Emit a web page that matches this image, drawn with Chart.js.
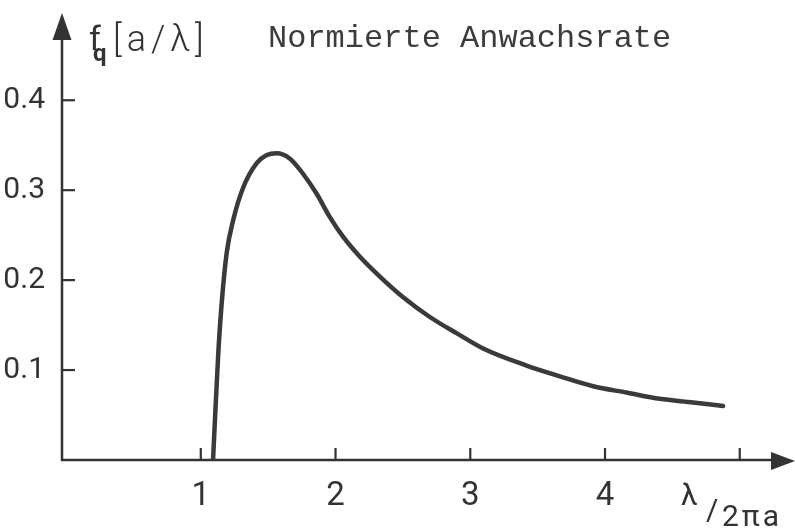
<!DOCTYPE html>
<html>
<head>
<meta charset="utf-8">
<script src="https://cdn.jsdelivr.net/npm/chart.js@4/dist/chart.umd.min.js"></script>
<style>
  html, body { margin: 0; padding: 0; background: #fff; }
  #wrap { width: 795px; height: 531px; }
</style>
</head>
<body>
<div id="wrap"><canvas id="c" width="795" height="531"></canvas></div>
<script>
// Normalised growth rate f_q (in units of a/λ) versus reduced wavelength λ/2πa
const lambdaValues = [1.091, 1.105, 1.130, 1.155, 1.192, 1.241, 1.315, 1.415, 1.490, 1.563, 1.662, 1.760, 1.860, 1.958, 2.057, 2.181, 2.329, 2.502, 2.700, 2.898, 3.095, 3.418, 3.665, 3.912, 4.159, 4.407, 4.654, 4.876];
const growthRates  = [0.000, 0.044, 0.119, 0.174, 0.230, 0.267, 0.303, 0.330, 0.339, 0.341, 0.335, 0.318, 0.296, 0.270, 0.248, 0.226, 0.204, 0.181, 0.159, 0.141, 0.124, 0.105, 0.093, 0.082, 0.075, 0.068, 0.064, 0.060];

const xTickValues = [1, 2, 3, 4, 5];
const xTickLabels = ['1', '2', '3', '4', ''];
const yTickValues = [0.1, 0.2, 0.3, 0.4];
const yTickLabels = ['0.1', '0.2', '0.3', '0.4'];

const chartTitle = 'Normierte Anwachsrate';
const yAxisSymbol = 'f';
const yAxisSub = 'q';
const yAxisUnit = '[a/λ]';
const xAxisTop = 'λ';
const xAxisSlash = '/';
const xAxisBottom = '2πa';

const INK = '#333';
const SANS = 'Roboto, "DejaVu Sans", sans-serif';

const points = lambdaValues.map((x, i) => ({ x: x, y: growthRates[i] }));

// Axis lines with arrow heads, inward tick marks and the hand-lettered titles
const axesPlugin = {
  id: 'axesDecor',
  beforeDatasetsDraw(chart) {
    const { ctx, chartArea, scales } = chart;
    const xs = scales.x, ys = scales.y;
    const x0 = xs.getPixelForValue(-0.03);
    const y0 = ys.getPixelForValue(0);
    ctx.save();
    ctx.strokeStyle = INK;
    ctx.fillStyle = INK;
    ctx.lineWidth = 2.5;
    ctx.lineCap = 'butt';
    // y axis
    ctx.beginPath();
    ctx.moveTo(x0, y0 + 1);
    ctx.lineTo(x0, chartArea.top + 20);
    ctx.stroke();
    ctx.beginPath();
    ctx.moveTo(x0, chartArea.top);
    ctx.lineTo(x0 - 9.5, chartArea.top + 27);
    ctx.lineTo(x0 + 9.5, chartArea.top + 27);
    ctx.closePath();
    ctx.fill();
    // x axis
    ctx.beginPath();
    ctx.moveTo(x0 - 1, y0);
    ctx.lineTo(chartArea.right - 18, y0);
    ctx.stroke();
    ctx.beginPath();
    ctx.moveTo(chartArea.right, y0 + 1);
    ctx.lineTo(chartArea.right - 24, y0 - 8);
    ctx.lineTo(chartArea.right - 24, y0 + 10);
    ctx.closePath();
    ctx.fill();
    // ticks
    ctx.lineWidth = 2.2;
    xTickValues.forEach(v => {
      const px = xs.getPixelForValue(v);
      ctx.beginPath();
      ctx.moveTo(px, y0);
      ctx.lineTo(px, y0 - 12);
      ctx.stroke();
    });
    yTickValues.forEach(v => {
      const py = ys.getPixelForValue(v);
      ctx.beginPath();
      ctx.moveTo(x0, py);
      ctx.lineTo(x0 + 13, py);
      ctx.stroke();
    });
    ctx.restore();
  },
  afterDraw(chart) {
    const { ctx } = chart;
    ctx.save();
    ctx.fillStyle = INK;
    ctx.textBaseline = 'alphabetic';
    ctx.textAlign = 'left';
    // y-axis quantity
    ctx.font = '400 34px ' + SANS;
    ctx.fillText(yAxisSymbol, 89, 50);
    ctx.font = '700 24px ' + SANS;
    ctx.fillText(yAxisSub, 93, 61);
    ctx.font = '300 36px ' + SANS;
    ctx.letterSpacing = '5px';
    ctx.fillText(yAxisUnit, 113, 51);
    // title
    ctx.letterSpacing = '0px';
    ctx.fillStyle = '#3c3c3c';
    ctx.font = '400 32px "Liberation Mono", "DejaVu Sans Mono", monospace';
    ctx.fillText(chartTitle, 268, 47);
    // x-axis quantity
    ctx.fillStyle = INK;
    ctx.font = '400 30px ' + SANS;
    ctx.fillText(xAxisTop, 681, 505);
    ctx.fillText(xAxisSlash, 706, 520);
    ctx.letterSpacing = '3px';
    ctx.fillText(xAxisBottom, 722, 526);
    ctx.restore();
  }
};

new Chart(document.getElementById('c'), {
  type: 'line',
  data: {
    datasets: [{
      data: points,
      borderColor: '#3a3a3a',
      borderWidth: 4.5,
      borderCapStyle: 'round',
      borderJoinStyle: 'round',
      pointRadius: 0,
      fill: false,
      cubicInterpolationMode: 'monotone'
    }]
  },
  options: {
    responsive: false,
    devicePixelRatio: 1,
    animation: false,
    layout: { padding: { top: 13, right: 0, bottom: 0, left: 0 } },
    plugins: { legend: { display: false }, tooltip: { enabled: false } },
    scales: {
      x: {
        type: 'linear',
        min: -0.03,
        max: 5.41,
        grid: { display: false },
        border: { display: false },
        afterBuildTicks: s => { s.ticks = xTickValues.map(v => ({ value: v })); },
        afterFit: s => { s.height = 71; s.paddingLeft = 0; s.paddingRight = 0; },
        ticks: {
          autoSkip: false,
          maxRotation: 0,
          padding: 9,
          color: INK,
          font: { family: SANS, size: 33 },
          callback: (v) => xTickLabels[xTickValues.indexOf(v)] ?? ''
        }
      },
      y: {
        type: 'linear',
        min: 0,
        max: 0.497,
        grid: { display: false },
        border: { display: false },
        afterBuildTicks: s => { s.ticks = yTickValues.map(v => ({ value: v })); },
        afterFit: s => { s.width = 62; s.paddingTop = 0; s.paddingBottom = 0; },
        ticks: {
          padding: 9,
          color: INK,
          font: { family: SANS, size: 30 },
          callback: (v) => yTickLabels[yTickValues.indexOf(v)] ?? ''
        }
      }
    }
  },
  plugins: [axesPlugin]
});
</script>
</body>
</html>
